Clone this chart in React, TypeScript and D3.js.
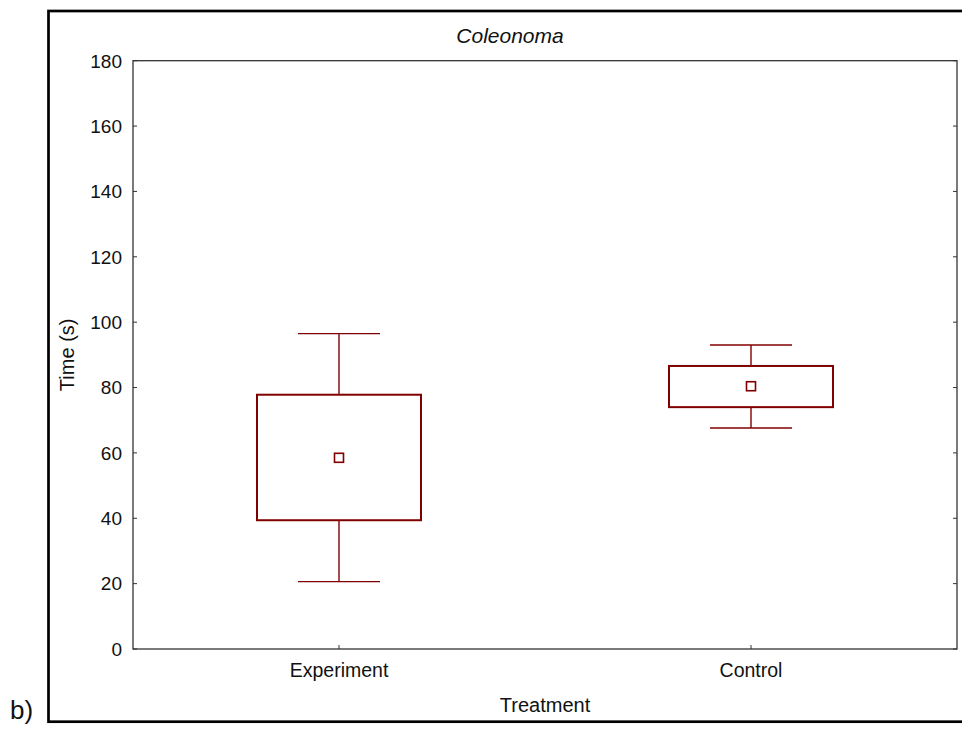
import React, { useEffect, useRef } from "react";
import * as d3 from "d3";

// Box summary per treatment group
const categories = ["Experiment", "Control"];
const whiskerLow = [20.6, 67.6];
const boxLow = [39.4, 74.0];
const means = [58.5, 80.4];
const boxHigh = [77.8, 86.6];
const whiskerHigh = [96.5, 93.0];
const yTicks = [0, 20, 40, 60, 80, 100, 120, 140, 160, 180];

const W = 962;
const H = 729;
const plot = { left: 133, right: 957, top: 60.7, bottom: 649 };
const RED = "#800000";
const FONT = "Liberation Sans, Arial, sans-serif";

export default function App() {
  const ref = useRef<SVGSVGElement>(null);

  useEffect(() => {
    const svg = d3.select(ref.current);
    svg.selectAll("*").remove();

    const x = d3
      .scalePoint<string>()
      .domain(categories)
      .range([plot.left, plot.right])
      .padding(0.5);
    const y = d3.scaleLinear().domain([0, 180]).range([plot.bottom, plot.top]);

    // outer frame
    svg
      .append("rect")
      .attr("x", 48.5)
      .attr("y", 11)
      .attr("width", 940)
      .attr("height", 710.7)
      .attr("fill", "none")
      .attr("stroke", "#000")
      .attr("stroke-width", 2.7);

    // plot frame
    svg
      .append("rect")
      .attr("x", plot.left)
      .attr("y", plot.top)
      .attr("width", plot.right - plot.left)
      .attr("height", plot.bottom - plot.top)
      .attr("fill", "none")
      .attr("stroke", "#333")
      .attr("stroke-width", 1.3);

    // y ticks (inward on both sides)
    const gy = svg.append("g");
    yTicks.forEach((t) => {
      const yy = y(t);
      gy.append("line")
        .attr("x1", plot.left)
        .attr("x2", plot.left + 4)
        .attr("y1", yy)
        .attr("y2", yy)
        .attr("stroke", "#333");
      gy.append("line")
        .attr("x1", plot.right)
        .attr("x2", plot.right - 4)
        .attr("y1", yy)
        .attr("y2", yy)
        .attr("stroke", "#333");
      gy.append("text")
        .attr("x", plot.left - 11)
        .attr("y", yy)
        .attr("dy", "0.36em")
        .attr("text-anchor", "end")
        .attr("font-family", FONT)
        .attr("font-size", 19)
        .attr("fill", "#111")
        .text(t);
    });

    // x ticks and category labels
    categories.forEach((c) => {
      const xx = x(c)!;
      svg
        .append("line")
        .attr("x1", xx)
        .attr("x2", xx)
        .attr("y1", plot.bottom)
        .attr("y2", plot.bottom - 4)
        .attr("stroke", "#333");
      svg
        .append("text")
        .attr("x", xx)
        .attr("y", 677)
        .attr("text-anchor", "middle")
        .attr("font-family", FONT)
        .attr("font-size", 19.5)
        .attr("fill", "#111")
        .text(c);
    });

    // boxes
    const boxW = 164;
    const capW = 82;
    const g = svg.append("g");
    categories.forEach((c, i) => {
      const xx = x(c)!;
      g.append("line")
        .attr("x1", xx)
        .attr("x2", xx)
        .attr("y1", y(whiskerHigh[i]))
        .attr("y2", y(boxHigh[i]))
        .attr("stroke", RED)
        .attr("stroke-width", 1.4);
      g.append("line")
        .attr("x1", xx)
        .attr("x2", xx)
        .attr("y1", y(boxLow[i]))
        .attr("y2", y(whiskerLow[i]))
        .attr("stroke", RED)
        .attr("stroke-width", 1.4);
      [whiskerHigh[i], whiskerLow[i]].forEach((v) => {
        g.append("line")
          .attr("x1", xx - capW / 2)
          .attr("x2", xx + capW / 2)
          .attr("y1", y(v))
          .attr("y2", y(v))
          .attr("stroke", RED)
          .attr("stroke-width", 1.4);
      });
      g.append("rect")
        .attr("x", xx - boxW / 2)
        .attr("y", y(boxHigh[i]))
        .attr("width", boxW)
        .attr("height", y(boxLow[i]) - y(boxHigh[i]))
        .attr("fill", "none")
        .attr("stroke", RED)
        .attr("stroke-width", 2);
      g.append("rect")
        .attr("x", xx - 4.5)
        .attr("y", y(means[i]) - 4.5)
        .attr("width", 9)
        .attr("height", 9)
        .attr("fill", "#fff")
        .attr("stroke", RED)
        .attr("stroke-width", 1.6);
    });

    // title and axis titles
    svg
      .append("text")
      .attr("x", 510)
      .attr("y", 43)
      .attr("text-anchor", "middle")
      .attr("font-family", FONT)
      .attr("font-style", "italic")
      .attr("font-size", 21)
      .attr("fill", "#111")
      .text("Coleonoma");
    svg
      .append("text")
      .attr("x", (plot.left + plot.right) / 2)
      .attr("y", 712)
      .attr("text-anchor", "middle")
      .attr("font-family", FONT)
      .attr("font-size", 20)
      .attr("fill", "#111")
      .text("Treatment");
    svg
      .append("text")
      .attr("transform", `translate(74,${(plot.top + plot.bottom) / 2}) rotate(-90)`)
      .attr("text-anchor", "middle")
      .attr("font-family", FONT)
      .attr("font-size", 20)
      .attr("fill", "#111")
      .text("Time (s)");
    svg
      .append("text")
      .attr("x", 10)
      .attr("y", 719)
      .attr("font-family", FONT)
      .attr("font-size", 26)
      .attr("fill", "#111")
      .text("b)");
  }, []);

  return (
    <svg
      ref={ref}
      width={W}
      height={H}
      style={{ position: "absolute", left: 0, top: 0, background: "#fff" }}
    />
  );
}
